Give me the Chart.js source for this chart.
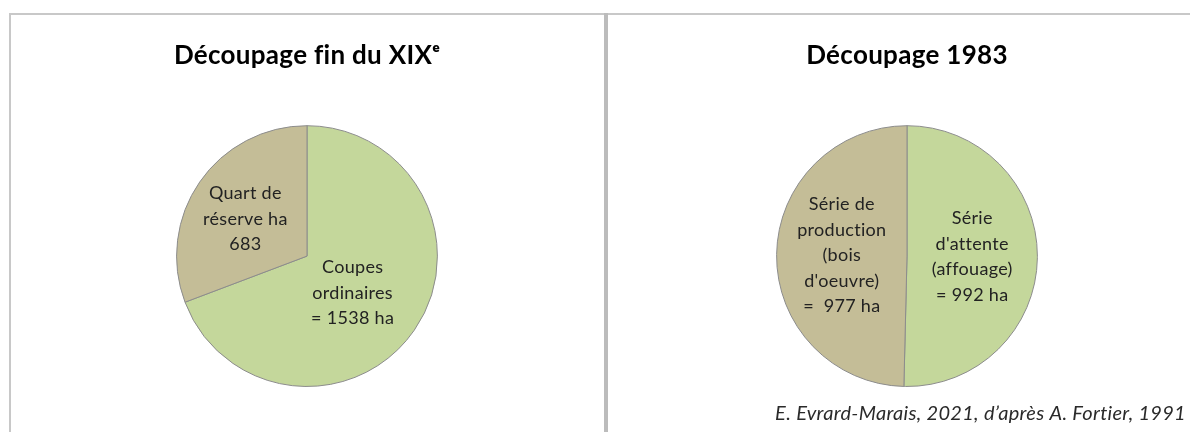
<!DOCTYPE html>
<html>
<head>
<meta charset="utf-8">
<script src="https://cdn.jsdelivr.net/npm/chart.js@4"></script>
<style>
    body { margin: 0; background: #fff; width: 1190px; height: 432px; overflow: hidden; position: relative; }
    .frame-top { position: absolute; left: 9px; top: 13px; width: 1181px; height: 2px; background: #c8c8c8; }
    .frame-left { position: absolute; left: 9px; top: 13px; width: 2px; height: 419px; background: #c8c8c8; }
    .divider { position: absolute; left: 604px; top: 13px; width: 4px; height: 419px; background: #bcbcbc; }
    .box { position: absolute; top: 15px; height: 417px; }
    #leftBox { left: 11px; width: 592px; }
    #rightBox { left: 608px; width: 582px; }
</style>
</head>
<body>
<div class="frame-top"></div>
<div class="frame-left"></div>
<div class="divider"></div>
<div class="box" id="leftBox"><canvas id="leftChart"></canvas></div>
<div class="box" id="rightBox"><canvas id="rightChart"></canvas></div>
<script>
// ========== données ==========
const leftTitle = 'Découpage fin du XIXᵉ';
const leftCategories = ['Coupes ordinaires', 'Quart de réserve'];
const leftValues = [1538, 683];
const leftLabels = [
    ['Coupes', 'ordinaires', '= 1538 ha'],
    ['Quart de', 'réserve ha', '683']
];

const rightTitle = 'Découpage 1983';
const rightCategories = ["Série d'attente", 'Série de production'];
const rightValues = [992, 977];
const rightLabels = [
    ['Série', "d'attente", '(affouage)', '= 992 ha'],
    ['Série de', 'production', '(bois', "d'oeuvre)", '=  977 ha']
];

const sourceNote = "E. Evrard-Marais, 2021, d’après A. Fortier, 1991";

const COLORS = {
    green: '#c4d79b',
    tan: '#c4bd97',
    border: '#8c8c8c',
    text: '#222222'
};

const FONT = "Lato, 'Open Sans', sans-serif";

// pas de ligatures "ti" (Lato) : un léger espacement les coupe
const noLigatures = {
    id: 'noLigatures',
    beforeDraw(chart) {
        chart.ctx.letterSpacing = '0.3px';
    }
};

// étiquettes multi-lignes au centre de chaque part
const sliceLabels = {
    id: 'sliceLabels',
    afterDatasetsDraw(chart, args, opts) {
        const ctx = chart.ctx;
        const meta = chart.getDatasetMeta(0);
        ctx.save();
        ctx.fillStyle = COLORS.text;
        ctx.font = '18px ' + FONT;
        ctx.textAlign = 'center';
        ctx.textBaseline = 'middle';
        meta.data.forEach((arc, i) => {
            const lines = opts.lines[i] || [];
            const pos = arc.tooltipPosition();
            const lh = 25.5;
            const x = pos.x + (opts.dx || 0);
            const y0 = pos.y - (lines.length - 1) * lh / 2;
            lines.forEach((line, j) => {
                ctx.fillText(line, x, y0 + j * lh);
            });
        });
        ctx.restore();
    }
};

function makePie(id, title, categories, values, lines, extra) {
    const ctx = document.getElementById(id);
    return new Chart(ctx, {
        type: 'pie',
        data: {
            labels: categories,
            datasets: [{
                data: values,
                backgroundColor: [COLORS.green, COLORS.tan],
                borderColor: COLORS.border,
                borderWidth: 1
            }]
        },
        options: {
            responsive: true,
            maintainAspectRatio: false,
            animation: false,
            layout: {
                padding: extra.padding
            },
            plugins: {
                legend: { display: false },
                tooltip: { enabled: false },
                title: {
                    display: true,
                    text: title,
                    color: '#000',
                    font: { family: FONT, size: 26, weight: 'bold' },
                    padding: { top: 25, bottom: 54 }
                },
                subtitle: extra.subtitle || { display: false },
                sliceLabels: { lines: lines, dx: extra.dx }
            }
        },
        plugins: [noLigatures, sliceLabels]
    });
}

makePie('leftChart', leftTitle, leftCategories, leftValues, leftLabels, {
    padding: { left: 0, right: 0, top: 0, bottom: 45 },
    dx: -8
});

makePie('rightChart', rightTitle, rightCategories, rightValues, rightLabels, {
    padding: { left: 20, right: 4, top: 0, bottom: 0 },
    dx: 0,
    subtitle: {
        display: true,
        position: 'bottom',
        align: 'end',
        text: sourceNote,
        color: '#2a2a2a',
        font: { family: FONT, size: 20, style: 'italic' },
        padding: { top: 15, bottom: 6 }
    }
});
</script>
</body>
</html>
